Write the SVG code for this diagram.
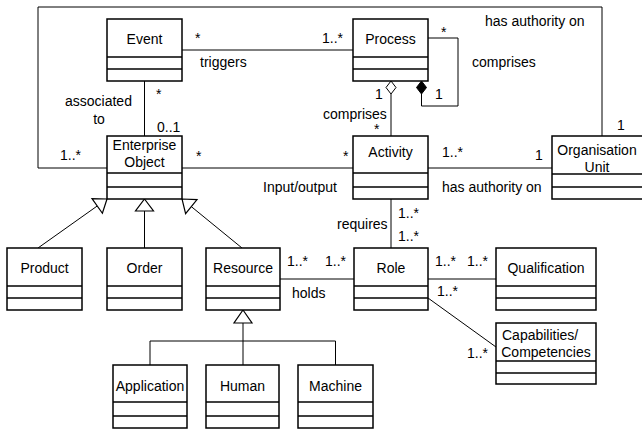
<svg xmlns="http://www.w3.org/2000/svg" width="642" height="430" viewBox="0 0 642 430">
<style>
.box{fill:#fff;stroke:#000;stroke-width:1.5}
.dv{stroke:#000;stroke-width:1.5}
.ln{fill:none;stroke:#000;stroke-width:1}
.tri{fill:#fff;stroke:#000;stroke-width:1.2}
text{font-family:"Liberation Sans",Arial,sans-serif;font-size:14px;fill:#000}
.c{text-anchor:middle}
</style>
<rect width="642" height="430" fill="#fff"/>
<g id="connectors">
<polyline class="ln" points="107,168 38,168 38,7 602,7 602,136"/>
<line class="ln" x1="182" y1="50" x2="353" y2="50"/>
<polyline class="ln" points="428,38 458,38 458,106 421.5,106 421.5,94"/>
<polygon points="421.5,81 426.5,87.5 421.5,94 416.5,87.5" fill="#000" stroke="#000" stroke-width="1"/>
<line class="ln" x1="391" y1="94" x2="391" y2="136"/>
<polygon points="391,81 396,87.5 391,94 386,87.5" fill="#fff" stroke="#000" stroke-width="1"/>
<line class="ln" x1="144.5" y1="81" x2="144.5" y2="136"/>
<line class="ln" x1="182" y1="168" x2="353" y2="168"/>
<line class="ln" x1="428" y1="168" x2="552" y2="168"/>
<line class="ln" x1="391" y1="199" x2="391" y2="248"/>
<line class="ln" x1="280" y1="279" x2="354" y2="279"/>
<line class="ln" x1="428" y1="279" x2="496" y2="279"/>
<line class="ln" x1="428" y1="298" x2="496" y2="347"/>
<line class="ln" x1="38" y1="248" x2="97.2" y2="206"/>
<polygon class="tri" points="107,199 102.4,213.3 92,198.7"/>
<line class="ln" x1="144.5" y1="248" x2="144.5" y2="211"/>
<polygon class="tri" points="144.5,199 153.5,211 135.5,211"/>
<line class="ln" x1="242" y1="248" x2="191.3" y2="206.6"/>
<polygon class="tri" points="182,199 197,199.6 185.6,213.6"/>
<polygon class="tri" points="243,310 252,323 234,323"/>
<line class="ln" x1="243" y1="323" x2="243" y2="365"/>
<polyline class="ln" points="150,365 150,341 335.5,341 335.5,365"/>
</g>
<g id="event"><rect class="box" x="107" y="19" width="75" height="62"/><line class="dv" x1="107" y1="57" x2="182" y2="57"/><line class="dv" x1="107" y1="69" x2="182" y2="69"/><text class="c" x="144.5" y="44">Event</text></g>
<g id="process"><rect class="box" x="353" y="19" width="75" height="62"/><line class="dv" x1="353" y1="57" x2="428" y2="57"/><line class="dv" x1="353" y1="69" x2="428" y2="69"/><text class="c" x="390.5" y="44">Process</text></g>
<g id="enterprise-object"><rect class="box" x="107" y="136" width="75" height="63"/><line class="dv" x1="107" y1="173" x2="182" y2="173"/><line class="dv" x1="107" y1="187" x2="182" y2="187"/><text class="c" x="144.5" y="150">Enterprise</text><text class="c" x="144.5" y="167">Object</text></g>
<g id="activity"><rect class="box" x="353" y="136" width="75" height="63"/><line class="dv" x1="353" y1="173" x2="428" y2="173"/><line class="dv" x1="353" y1="187" x2="428" y2="187"/><text class="c" x="390.5" y="157">Activity</text></g>
<g id="organisation-unit"><rect class="box" x="552" y="136" width="92" height="63"/><line class="dv" x1="552" y1="174" x2="644" y2="174"/><line class="dv" x1="552" y1="187" x2="644" y2="187"/><text class="c" x="597" y="155">Organisation</text><text class="c" x="597" y="172">Unit</text></g>
<g id="product"><rect class="box" x="7" y="248" width="75" height="62"/><line class="dv" x1="7" y1="286" x2="82" y2="286"/><line class="dv" x1="7" y1="298" x2="82" y2="298"/><text class="c" x="44.5" y="273">Product</text></g>
<g id="order"><rect class="box" x="107" y="248" width="75" height="62"/><line class="dv" x1="107" y1="286" x2="182" y2="286"/><line class="dv" x1="107" y1="298" x2="182" y2="298"/><text class="c" x="144.5" y="273">Order</text></g>
<g id="resource"><rect class="box" x="206" y="248" width="74" height="62"/><line class="dv" x1="206" y1="286" x2="280" y2="286"/><line class="dv" x1="206" y1="298" x2="280" y2="298"/><text class="c" x="243" y="273">Resource</text></g>
<g id="role"><rect class="box" x="354" y="248" width="74" height="62"/><line class="dv" x1="354" y1="286" x2="428" y2="286"/><line class="dv" x1="354" y1="298" x2="428" y2="298"/><text class="c" x="391" y="273">Role</text></g>
<g id="qualification"><rect class="box" x="496" y="248" width="100" height="62"/><line class="dv" x1="496" y1="286" x2="596" y2="286"/><line class="dv" x1="496" y1="298" x2="596" y2="298"/><text class="c" x="546" y="273">Qualification</text></g>
<g id="capabilities"><rect class="box" x="496" y="323" width="100" height="61"/><line class="dv" x1="496" y1="361" x2="596" y2="361"/><line class="dv" x1="496" y1="373" x2="596" y2="373"/><text x="502" y="340">Capabilities/</text><text class="c" x="546" y="357">Competencies</text></g>
<g id="application"><rect class="box" x="113" y="365" width="74" height="63"/><line class="dv" x1="113" y1="402" x2="187" y2="402"/><line class="dv" x1="113" y1="416" x2="187" y2="416"/><text class="c" x="150" y="391">Application</text></g>
<g id="human"><rect class="box" x="206" y="365" width="73" height="63"/><line class="dv" x1="206" y1="402" x2="279" y2="402"/><line class="dv" x1="206" y1="416" x2="279" y2="416"/><text class="c" x="242.5" y="391">Human</text></g>
<g id="machine"><rect class="box" x="298" y="365" width="75" height="63"/><line class="dv" x1="298" y1="402" x2="373" y2="402"/><line class="dv" x1="298" y1="416" x2="373" y2="416"/><text class="c" x="335.5" y="391">Machine</text></g>
<g id="labels">
<text x="195" y="43">*</text>
<text x="322" y="43">1..*</text>
<text x="200" y="67">triggers</text>
<text x="441" y="37">*</text>
<text x="472" y="67">comprises</text>
<text x="485" y="26">has authority on</text>
<text x="617" y="130">1</text>
<text x="375" y="99">1</text>
<text x="435" y="99">1</text>
<text x="323" y="119">comprises</text>
<text x="374" y="134">*</text>
<text x="343" y="161">*</text>
<text x="442" y="157">1..*</text>
<text x="535" y="160">1</text>
<text x="442" y="192">has authority on</text>
<text x="263" y="192">Input/output</text>
<text x="196" y="161">*</text>
<text x="60" y="160">1..*</text>
<text x="65" y="106">associated</text>
<text class="c" x="99" y="124">to</text>
<text x="156" y="99">*</text>
<text x="157" y="132">0..1</text>
<text x="287" y="266">1..*</text>
<text x="325" y="266">1..*</text>
<text x="292" y="298">holds</text>
<text x="337" y="229">requires</text>
<text x="398" y="218">1..*</text>
<text x="398" y="241">1..*</text>
<text x="435" y="266">1..*</text>
<text x="467" y="266">1..*</text>
<text x="437" y="296">1..*</text>
<text x="467" y="358">1..*</text>
</g>
</svg>
